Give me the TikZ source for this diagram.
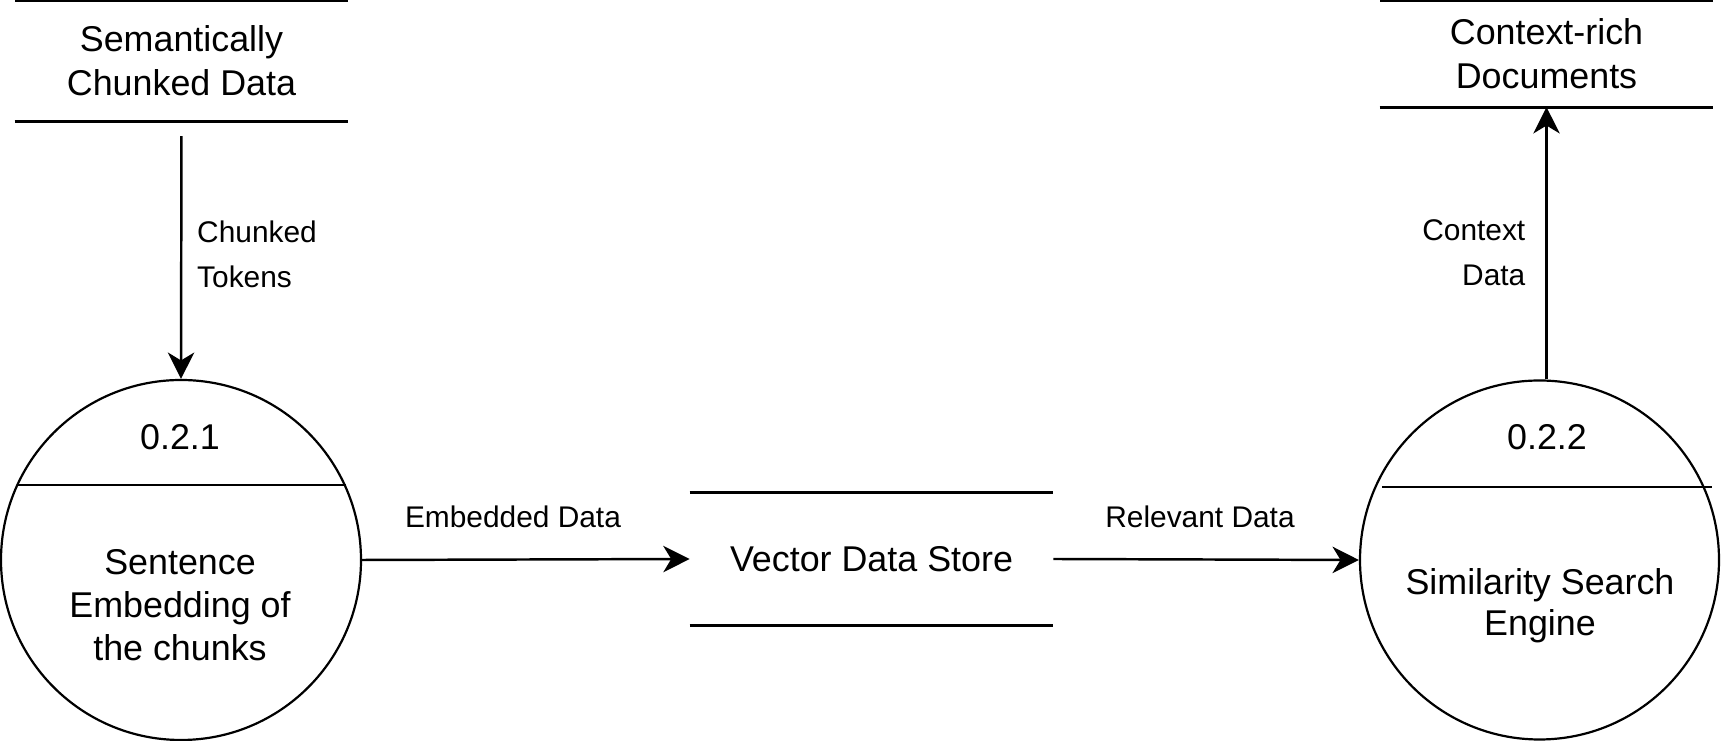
\documentclass[tikz,border=0pt]{standalone}
\usepackage{fontspec}
\setmainfont{Liberation Sans}
\usetikzlibrary{arrows.meta}

\begin{document}
\begin{tikzpicture}[
  process/.style={draw, circle, line width=1.25pt, minimum size=7.2cm, inner sep=0pt},
  store/.style={minimum width=6.66cm, align=center, font=\fontsize{20.4}{25}\selectfont},
  flow/.style={-{Stealth[length=15pt, width=15pt, inset=4.5pt]}, line width=1.4pt},
  flowlabel/.style={font=\fontsize{17}{25.5}\selectfont}
]
\useasboundingbox (0,0) rectangle (34.5,14.82);

% Data stores
\node[store, minimum height=2.39cm] (chunks) at (3.63, 13.6) {Semantically\\Chunked Data};
\node[store, minimum width=7.26cm, minimum height=2.64cm] (vector) at (17.43, 3.64) {Vector Data Store};
\node[store, minimum height=2.11cm] (docs) at (30.93, 13.74) {Context-rich\\Documents};

\foreach \s in {chunks, vector, docs} {
  \draw[line width=1.7pt] (\s.north west) -- (\s.north east);
  \draw[line width=1.7pt] (\s.south west) -- (\s.south east);
}

% Processes
\node[process] (embed) at (3.62, 3.62) {};
\node[process, minimum size=7.18cm] (search) at (30.79, 3.62) {};

\draw[line width=1.25pt] (0.36, 5.12) -- (6.92, 5.12);
\draw[line width=1.25pt] (27.64, 5.08) -- (34.24, 5.08);

\node[font=\fontsize{20.4}{25}\selectfont] at (3.6, 6.08) {0.2.1};
\node[font=\fontsize{20.4}{25}\selectfont] at (30.94, 6.08) {0.2.2};
\node[align=center, font=\fontsize{20.4}{24.5}\selectfont] at (3.6, 2.72) {Sentence\\Embedding of\\the chunks};
\node[align=center, font=\fontsize{20.4}{23.5}\selectfont] at (30.8, 2.7) {Similarity Search\\Engine};

% Flows
\draw[flow, shorten <=0.3cm] (chunks.south) -- (embed.north);
\draw[flow] (embed.east) -- (vector.west);
\draw[flow] (vector.east) -- (search.west);
\draw[flow] (docs.south |- search.north) -- (docs.south);

% Labels
\node[flowlabel, align=left, anchor=west] at (3.82, 9.73) {Chunked\\Tokens};
\node[flowlabel] at (10.26, 4.48) {Embedded Data};
\node[flowlabel] at (24.0, 4.48) {Relevant Data};
\node[flowlabel, align=right, anchor=east] at (30.63, 9.77) {Context\\Data};

\end{tikzpicture}
\end{document}
